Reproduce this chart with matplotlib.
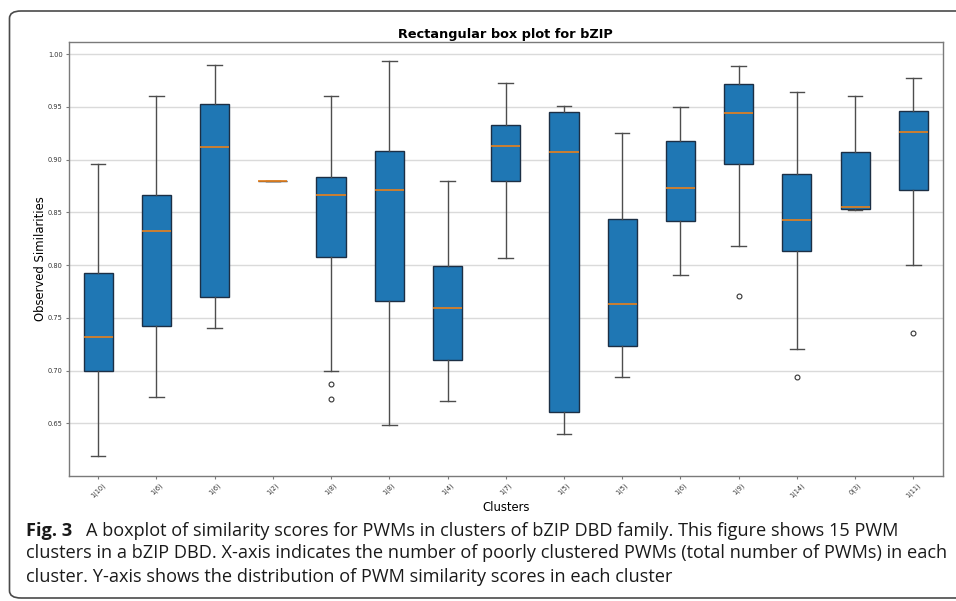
import matplotlib
matplotlib.use("Agg")
import matplotlib.pyplot as plt
from matplotlib.patches import FancyBboxPatch

# per-cluster box statistics
labels = ["1(10)", "1(6)", "1(6)", "1(2)", "1(8)", "1(8)", "1(4)", "1(7)",
          "1(5)", "1(5)", "1(6)", "1(9)", "1(14)", "0(3)", "1(11)"]
whislo = [0.619, 0.675, 0.740, 0.880, 0.700, 0.648, 0.671, 0.807,
          0.640, 0.694, 0.791, 0.818, 0.720, 0.852, 0.800]
q1 = [0.700, 0.742, 0.770, 0.880, 0.808, 0.766, 0.710, 0.880,
      0.661, 0.723, 0.842, 0.896, 0.813, 0.8535, 0.871]
med = [0.732, 0.832, 0.912, 0.880, 0.866, 0.871, 0.759, 0.913,
       0.907, 0.763, 0.873, 0.944, 0.843, 0.855, 0.926]
q3 = [0.792, 0.866, 0.953, 0.880, 0.883, 0.908, 0.799, 0.933,
      0.945, 0.844, 0.918, 0.972, 0.886, 0.9075, 0.946]
whishi = [0.896, 0.960, 0.990, 0.880, 0.960, 0.993, 0.880, 0.973,
          0.951, 0.925, 0.950, 0.989, 0.964, 0.960, 0.977]
fliers = [[], [], [], [], [0.687, 0.673], [], [], [],
          [], [], [], [0.771], [0.694], [], [0.736]]

caption_bold = "Fig. 3"
caption_lines = [
    "A boxplot of similarity scores for PWMs in clusters of bZIP DBD family. This figure shows 15 PWM",
    "clusters in a bZIP DBD. X-axis indicates the number of poorly clustered PWMs (total number of PWMs) in each",
    "cluster. Y-axis shows the distribution of PWM similarity scores in each cluster",
]

W, H = 956, 601
fig = plt.figure(figsize=(W / 100, H / 100), dpi=100)
ax = fig.add_axes([69 / W, 1 - 475.7 / H, (942.5 - 69) / W, (475.7 - 41.7) / H])

stats = [dict(label=labels[i], whislo=whislo[i], q1=q1[i], med=med[i], q3=q3[i],
              whishi=whishi[i], fliers=fliers[i]) for i in range(len(labels))]
ax.bxp(stats, patch_artist=True, widths=0.5,
       boxprops=dict(facecolor="#1f77b4", edgecolor="#1c2f45", linewidth=1.0),
       whiskerprops=dict(color="#4d4d4d", linewidth=1.0),
       capprops=dict(color="#4d4d4d", linewidth=1.0),
       medianprops=dict(color="#e8801a", linewidth=1.2, zorder=5),
       flierprops=dict(marker="o", markersize=3.5, markerfacecolor="none",
                       markeredgecolor="#333333", markeredgewidth=0.8))

ax.set_axisbelow(True)
ax.yaxis.grid(True, color="#dadada", linewidth=1.0)
ax.xaxis.grid(False)
for s in ax.spines.values():
    s.set_color("#7a7a7a"); s.set_linewidth(1.0)
ax.tick_params(axis="both", labelsize=4.8, colors="#7a7a7a", labelcolor="#333333",
               length=2.5, width=0.8, pad=2)
plt.setp(ax.get_xticklabels(), rotation=45)
ax.set_title("Rectangular box plot for bZIP", fontsize=9.3, fontweight="bold", pad=3)
ax.set_xlabel("Clusters", fontsize=8.4, labelpad=1.5)
ax.set_ylabel("Observed Similarities", fontsize=8.4, labelpad=0.5)

# rounded frame of the figure panel (runs off the right edge)
frame = FancyBboxPatch((9.5 / W, 3 / H), (980 - 9.5) / W, (590 - 3) / H,
                       boxstyle="round,pad=0,rounding_size=0.012",
                       transform=fig.transFigure, facecolor="none",
                       edgecolor="#4a4a4a", linewidth=1.2, clip_on=False)
fig.patches.append(frame)

cap_font = "Open Sans"
cap_size = 13.1
base_y = [535.7, 558.3, 581.7]
fig.text(26 / W, 1 - base_y[0] / H, caption_bold, fontsize=cap_size, fontweight="bold",
         family=cap_font, va="baseline", color="#1a1a1a")
fig.text(86 / W, 1 - base_y[0] / H, caption_lines[0], fontsize=cap_size,
         family=cap_font, va="baseline", color="#1a1a1a")
for line, y in zip(caption_lines[1:], base_y[1:]):
    fig.text(26 / W, 1 - y / H, line, fontsize=cap_size, family=cap_font,
             va="baseline", color="#1a1a1a")

fig.savefig("out.png", dpi=100)
